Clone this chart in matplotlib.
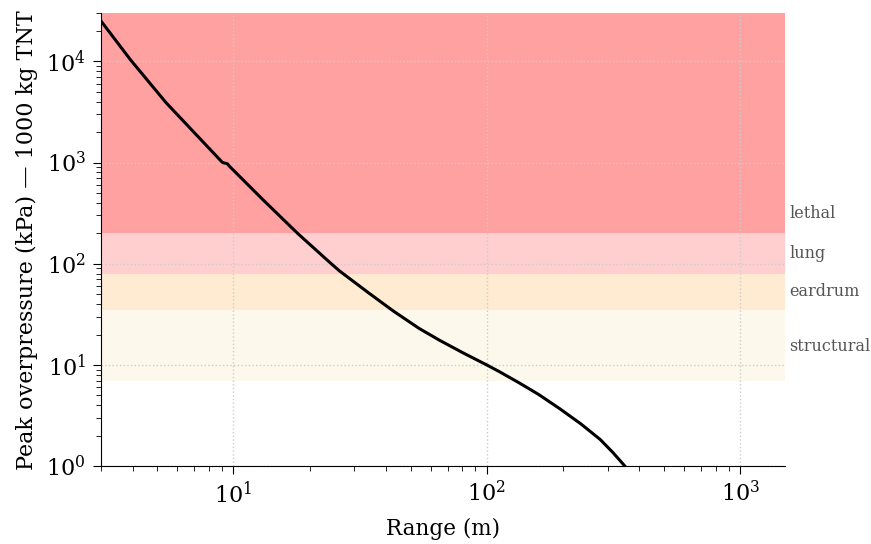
import matplotlib
matplotlib.use("Agg")
import matplotlib.pyplot as plt
import matplotlib.transforms as mtransforms

plt.rcParams['font.family'] = ['DejaVu Serif']

# peak overpressure curve
range_m = [3.0, 3.94, 5.42, 9.05, 9.45, 9.64, 13.0, 17.9, 23.9, 26.2, 34.0, 42.7, 54.0,
           65.2, 80.0, 100, 112, 135, 160, 194, 235, 280, 315, 351, 365]
pressure_kpa = [25000, 10200, 3900, 1000, 975, 919, 435, 200, 104, 85, 52, 34.2, 23.0,
                17.5, 13.3, 10, 8.6, 6.6, 5.12, 3.7, 2.62, 1.84, 1.36, 1.0, 0.9]

# damage bands (kPa)
band_names = ["lethal", "lung", "eardrum", "structural"]
band_low = [200, 80, 35, 7]
band_high = [30000, 200, 80, 35]
band_label_y = [313, 127, 53, 15.3]
band_colors = ["#ffa1a1", "#ffcfd0", "#ffebd2", "#fdf8ec"]

fig = plt.figure(figsize=(8.71, 5.44), dpi=100)
ax = fig.add_axes([0.116, 0.143, 0.785, 0.833])

for lo, hi, c in zip(band_low, band_high, band_colors):
    ax.axhspan(lo, hi, color=c, lw=0, zorder=0)

ax.plot(range_m, pressure_kpa, color="black", lw=2.2, zorder=3)

ax.set_xscale("log")
ax.set_yscale("log")
ax.set_xlim(3, 1500)
ax.set_ylim(1, 30000)

trans = mtransforms.blended_transform_factory(ax.transAxes, ax.transData)
for name, y in zip(band_names, band_label_y):
    ax.text(1.007, y, name, transform=trans, fontsize=11.5, color="#555555",
            va="center", ha="left")

ax.grid(True, which="major", ls=":", color="#cccccc", lw=1, zorder=1)
ax.set_axisbelow(False)
for s in ["top", "right"]:
    ax.spines[s].set_visible(False)
ax.spines["left"].set_zorder(4)
ax.spines["bottom"].set_zorder(4)
ax.tick_params(which="major", labelsize=16, length=6, pad=5)
ax.tick_params(which="minor", length=3.5)

ax.set_xlabel("Range (m)", fontsize=15.5, labelpad=7)
ax.set_ylabel("Peak overpressure (kPa) — 1000 kg TNT", fontsize=16, labelpad=6)

fig.savefig("out.png", dpi=100)
